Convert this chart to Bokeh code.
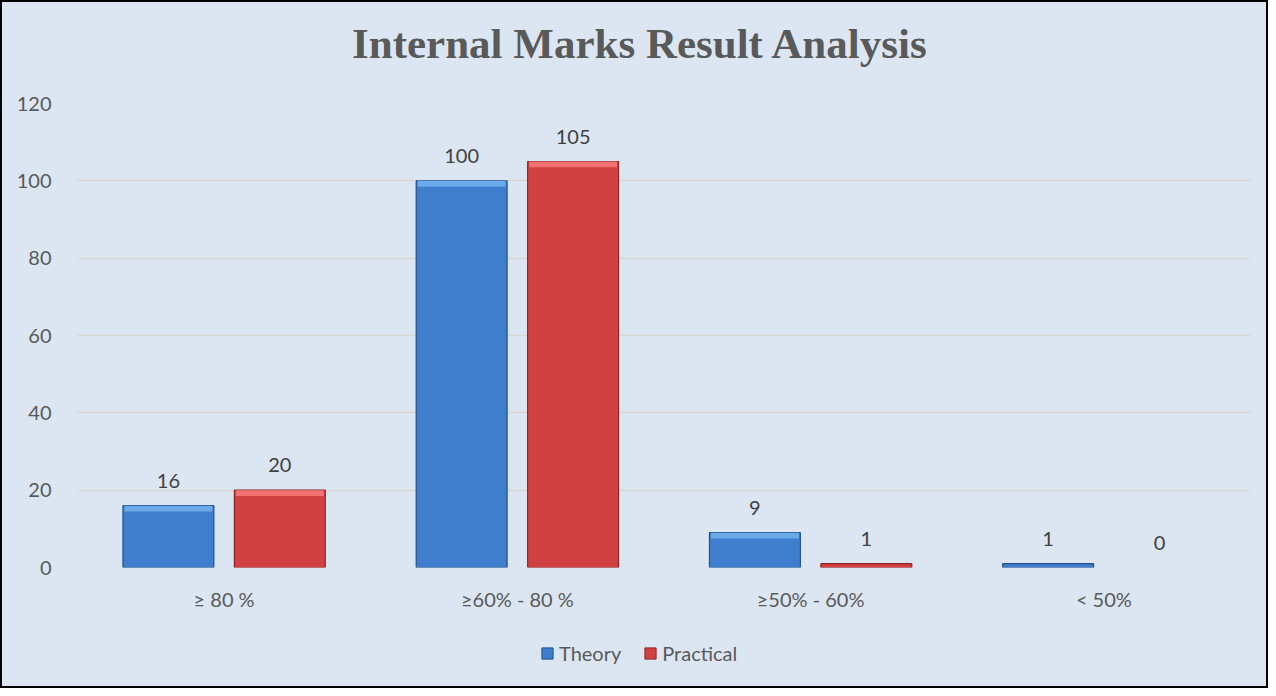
from bokeh.plotting import figure
from bokeh.layouts import column
from bokeh.models import ColumnDataSource, Range1d, FactorRange, Legend, LegendItem, FixedTicker
from bokeh.transform import dodge
from bokeh.core.properties import value
from bokeh.embed import file_html
from bokeh.resources import INLINE

categories = ["≥ 80 %", "≥60% - 80 %", "≥50% - 60%", "< 50%"]
theory = [16, 100, 9, 1]
practical = [20, 105, 1, 0]
y_ticks = [0, 20, 40, 60, 80, 100, 120]
series_names = ["Theory", "Practical"]
title_text = "Internal Marks Result Analysis"

BG = "#DCE6F2"
TXT = "#595959"
BLUE, BLUE_HI, BLUE_EDGE = "#3F7ECD", "#6AAAE8", "#24528F"
RED, RED_HI, RED_EDGE = "#D24141", "#F27272", "#8E2525"

W, HT, H1, H2 = 1264, 70, 548, 66


def strip(height):
    f = figure(width=W, height=height, x_range=Range1d(0, 1), y_range=Range1d(0, 1),
               output_backend="svg", toolbar_location=None,
               x_axis_type=None, y_axis_type=None,
               min_border_left=0, min_border_right=0, min_border_top=0, min_border_bottom=0)
    f.background_fill_color = BG
    f.border_fill_color = BG
    f.outline_line_color = None
    f.grid.visible = False
    return f


# title strip
tf = strip(HT)
tf.text(x=[0.48], y=[0.2], text=[title_text], text_align="center", text_baseline="alphabetic",
        y_offset=-15, text_font=value("Liberation Serif"), text_font_style="bold",
        text_font_size="43px", text_color=TXT)

# main chart
p = figure(width=W, height=H1, x_range=FactorRange(*categories), y_range=Range1d(0, 120),
           output_backend="svg", toolbar_location=None,
           min_border_left=75, min_border_right=16, min_border_top=31, min_border_bottom=53)
p.background_fill_color = BG
p.border_fill_color = BG
p.outline_line_color = None


def edge(vals, c):
    return [c if v > 0 else None for v in vals]


src = ColumnDataSource(dict(cat=categories, theory=theory, practical=practical,
                            t_lab=[str(v) for v in theory], p_lab=[str(v) for v in practical],
                            t_edge=edge(theory, BLUE_EDGE), p_edge=edge(practical, RED_EDGE),
                            t_hi=[max(v - 1.5, 0) if v >= 5 else v for v in theory],
                            p_hi=[max(v - 1.5, 0) if v >= 5 else v for v in practical]))

off = 0.19
bw = 0.31
p.vbar(x=dodge("cat", -off, range=p.x_range), top="theory", width=bw, source=src,
       fill_color=BLUE, line_color="t_edge", line_width=1.2)
p.vbar(x=dodge("cat", -off, range=p.x_range), top="theory", bottom="t_hi", width=bw - 0.01, source=src,
       fill_color=BLUE_HI, line_color=None)
p.vbar(x=dodge("cat", off, range=p.x_range), top="practical", width=bw, source=src,
       fill_color=RED, line_color="p_edge", line_width=1.2)
p.vbar(x=dodge("cat", off, range=p.x_range), top="practical", bottom="p_hi", width=bw - 0.01, source=src,
       fill_color=RED_HI, line_color=None)

for col, lab, o in (("theory", "t_lab", -off), ("practical", "p_lab", off)):
    p.text(x=dodge("cat", o, range=p.x_range), y=col, text=lab, source=src,
           text_align="center", text_baseline="bottom", y_offset=-18,
           text_font=value("Lato"), text_font_size="20px", text_color="#404040")

p.yaxis.ticker = FixedTicker(ticks=y_ticks)
p.ygrid.ticker = FixedTicker(ticks=y_ticks)
p.ygrid.grid_line_color = "#D6D6D6"
p.ygrid.grid_line_width = 1.5
p.xgrid.grid_line_color = None

for ax in (p.xaxis, p.yaxis):
    ax.axis_line_color = None
    ax.major_tick_line_color = None
    ax.minor_tick_line_color = None
    ax.major_label_text_font = "Lato"
    ax.major_label_text_font_size = "20px"
    ax.major_label_text_color = TXT
p.yaxis.major_label_standoff = 20
p.xaxis.major_label_standoff = 13

# legend strip below the chart (swatch renderers sit outside the visible range)
lg = strip(H2)
swatch = ColumnDataSource(dict(x=[-1.0], top=[-1.0]))
g_t = lg.vbar(x="x", top="top", width=0.1, source=swatch, fill_color=BLUE, line_color=BLUE_EDGE)
g_p = lg.vbar(x="x", top="top", width=0.1, source=swatch, fill_color=RED, line_color=RED_EDGE)
legend = Legend(items=[LegendItem(label=series_names[0], renderers=[g_t]),
                       LegendItem(label=series_names[1], renderers=[g_p])],
                orientation="horizontal", location=(463, 21),
                background_fill_alpha=0, border_line_alpha=0,
                label_text_font="Lato", label_text_font_size="20px", label_text_color=TXT,
                glyph_width=14, glyph_height=14, label_standoff=5, spacing=22,
                margin=0, padding=0)
lg.add_layout(legend)

layout = column(tf, p, lg, spacing=0, styles={"border": "2px solid black", "background-color": BG})
open("out.html", "w").write(file_html(layout, INLINE))
